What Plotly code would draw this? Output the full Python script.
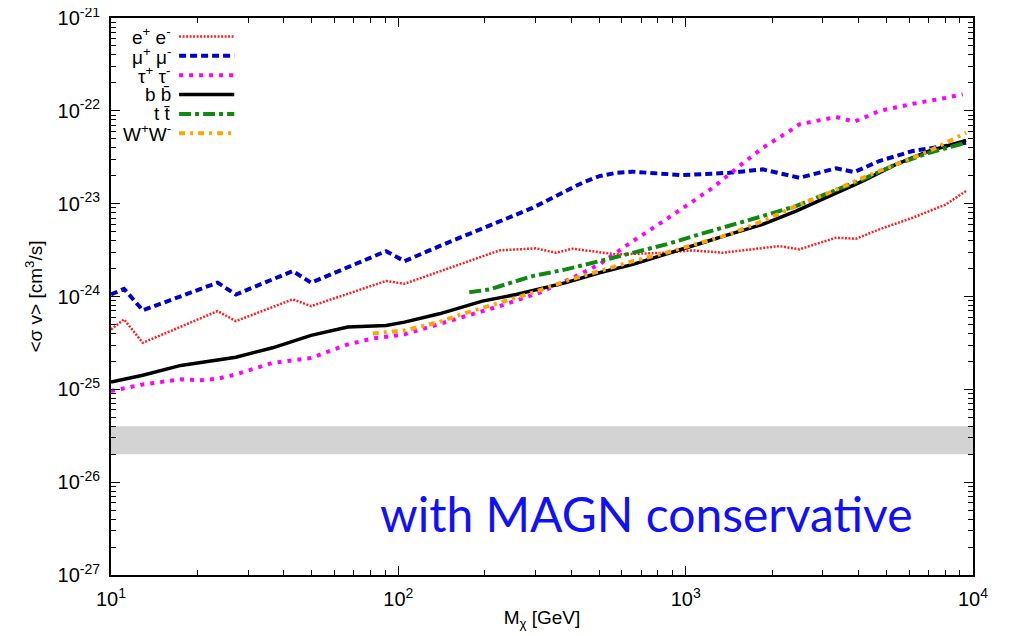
import plotly.graph_objects as go

# ---------------- data ----------------
ee_mass = [10, 11.1, 12.9, 23.5, 27.2, 42.9, 49.7, 90.6, 105, 139, 225, 301, 354, 404, 573,
           855, 1057, 1346, 2118, 2488, 3337, 3917, 4721, 6166, 8055, 9460]
ee_sv = [4.42e-25, 5.67e-25, 3.17e-25, 6.97e-25, 5.43e-25, 9.31e-25, 7.88e-25, 1.47e-24, 1.37e-24,
         1.85e-24, 3.14e-24, 3.30e-24, 2.96e-24, 3.27e-24, 2.84e-24, 2.96e-24, 3.14e-24, 2.96e-24,
         3.49e-24, 3.22e-24, 4.30e-24, 4.19e-24, 5.29e-24, 7.05e-24, 9.82e-24, 1.37e-23]

mumu_mass = [10, 11.1, 12.9, 23.5, 27.2, 42.9, 49.7, 90.6, 105, 139, 293, 437, 501, 573, 655, 977,
             1419, 1854, 2488, 3337, 3864, 4721, 6166, 8055, 9460]
mumu_sv = [1.05e-24, 1.21e-24, 7.1e-25, 1.41e-24, 1.05e-24, 1.88e-24, 1.41e-24, 3.08e-24, 2.40e-24,
           3.49e-24, 9.0e-24, 1.68e-23, 1.98e-23, 2.15e-23, 2.21e-23, 2.03e-23, 2.15e-23, 2.34e-23,
           1.90e-23, 2.40e-23, 2.19e-23, 2.88e-23, 3.69e-23, 4.18e-23, 4.53e-23]

tautau_mass = [10, 12.9, 17.5, 20.3, 23.5, 27.2, 36.5, 49.7, 66.7, 81.5, 105, 139, 225, 310, 404,
               501, 655, 855, 1116, 1241, 1538, 1854, 2296, 2488, 3337, 3864, 4721, 6166, 8055, 9204]
tautau_sv = [9.57e-26, 1.13e-25, 1.28e-25, 1.25e-25, 1.30e-25, 1.45e-25, 1.93e-25, 2.18e-25, 3.05e-25,
             3.53e-25, 3.91e-25, 5.08e-25, 7.88e-25, 1.10e-24, 1.59e-24, 2.22e-24, 3.95e-24, 6.77e-24,
             1.21e-23, 1.48e-23, 2.54e-23, 4.00e-23, 6.05e-23, 7.16e-23, 8.58e-23, 7.63e-23, 9.96e-23,
             1.19e-22, 1.38e-22, 1.51e-22]

bb_mass = [10, 12.9, 17.5, 23.5, 27.2, 36.5, 49.7, 66.7, 90.6, 105, 139, 196, 257, 383, 501, 655,
           855, 1116, 1419, 1854, 2421, 3162, 4130, 5395, 7047, 9460]
bb_sv = [1.20e-25, 1.42e-25, 1.81e-25, 2.05e-25, 2.22e-25, 2.80e-25, 3.81e-25, 4.68e-25, 4.88e-25,
         5.30e-25, 6.51e-25, 8.91e-25, 1.05e-24, 1.41e-24, 1.80e-24, 2.22e-24, 2.84e-24, 3.70e-24,
         4.67e-24, 5.98e-24, 8.32e-24, 1.21e-23, 1.75e-23, 2.65e-23, 3.69e-23, 4.81e-23]

tt_mass = [176.6, 207, 293, 383, 501, 655, 855, 1116, 1419, 1854, 2421, 3162, 4130, 5395, 7047, 9460]
tt_sv = [1.11e-24, 1.19e-24, 1.66e-24, 1.96e-24, 2.40e-24, 2.96e-24, 3.64e-24, 4.67e-24, 5.74e-24,
         7.35e-24, 9.42e-24, 1.31e-23, 1.83e-23, 2.65e-23, 3.54e-23, 4.53e-23]

ww_mass = [81.5, 105, 139, 172, 225, 293, 383, 501, 655, 855, 1116, 1419, 1854, 2421, 3162, 4130,
           5395, 7047, 9460]
ww_sv = [4.00e-25, 4.31e-25, 5.33e-25, 6.67e-25, 8.55e-25, 1.10e-24, 1.47e-24, 1.88e-24, 2.40e-24,
         2.96e-24, 3.79e-24, 4.67e-24, 6.49e-24, 9.42e-24, 1.31e-23, 1.90e-23, 2.65e-23, 3.69e-23,
         5.81e-23]

band_mass = [10, 10000]
band_low = [2e-26, 2e-26]
band_high = [4e-26, 4e-26]

series_labels = ["e<sup>+</sup> e<sup>-</sup>", "\u03bc<sup>+</sup> \u03bc<sup>-</sup>",
                 "\u03c4<sup>+</sup> \u03c4<sup>-</sup>", "b b\u0304", "t t\u0304",
                 "W<sup>+</sup>W<sup>-</sup>"]

x_tickvals = [10, 100, 1000, 10000]
x_ticktext = ["10<sup>1</sup>", "10<sup>2</sup>", "10<sup>3</sup>", "10<sup>4</sup>"]
y_tickvals = [1e-27, 1e-26, 1e-25, 1e-24, 1e-23, 1e-22, 1e-21]
y_ticktext = ["10<sup>-27</sup>", "10<sup>-26</sup>", "10<sup>-25</sup>", "10<sup>-24</sup>",
              "10<sup>-23</sup>", "10<sup>-22</sup>", "10<sup>-21</sup>"]

annotation_text = "with MAGN conservative"

# ---------------- styles ----------------
styles = [
    dict(color="#ff2020", width=2.5, dash="2px,1.5px"),
    dict(color="#0000cc", width=4, dash="7px,4px"),
    dict(color="#ff00ff", width=4, dash="4px,6px"),
    dict(color="#000000", width=3.5, dash="solid"),
    dict(color="#118811", width=4, dash="12px,4px,4px,4px"),
    dict(color="#ffa500", width=4, dash="6px,5px,3px,5px"),
]
series = [(ee_mass, ee_sv), (mumu_mass, mumu_sv), (tautau_mass, tautau_sv),
          (bb_mass, bb_sv), (tt_mass, tt_sv), (ww_mass, ww_sv)]

fig = go.Figure()

# gray band
fig.add_trace(go.Scatter(x=band_mass, y=band_low, mode="lines", line=dict(width=0, color="#d3d3d3"),
                         showlegend=False, hoverinfo="skip"))
fig.add_trace(go.Scatter(x=band_mass, y=band_high, mode="lines", line=dict(width=0, color="#d3d3d3"),
                         fill="tonexty", fillcolor="#d3d3d3", showlegend=False, hoverinfo="skip"))

for (xs, ys), st, lab in zip(series, styles, series_labels):
    fig.add_trace(go.Scatter(x=xs, y=ys, mode="lines", name=lab, line=st, showlegend=False))

# legend (gnuplot style: text right-aligned, sample to the right)
leg_y0 = 0.967
leg_dy = 0.0348
for i, (lab, st) in enumerate(zip(series_labels, styles)):
    yy = leg_y0 - i * leg_dy
    fig.add_annotation(xref="paper", yref="paper", x=0.072, y=yy, text=lab, showarrow=False,
                       xanchor="right", yanchor="middle",
                       font=dict(family="Liberation Sans", size=19, color="black"))
    fig.add_shape(type="line", xref="paper", yref="paper", x0=0.079, x1=0.143, y0=yy, y1=yy,
                  line=st)

fig.add_annotation(xref="paper", yref="paper", x=0.621, y=0.11, text=annotation_text,
                   showarrow=False, xanchor="center", yanchor="middle",
                   font=dict(family="Lato", size=48, color="#1010ff"))

minor_x = [m * 10 ** e for e in range(1, 4) for m in range(2, 10)]
minor_y = [m * 10.0 ** e for e in range(-27, -21) for m in range(2, 10)]

axis_common = dict(showline=True, linecolor="black", linewidth=2, mirror="ticks", ticks="inside",
                   ticklen=9, tickwidth=1.2, tickcolor="black", showgrid=False, zeroline=False,
                   automargin=False, ticklabeloverflow="allow",
                   tickfont=dict(family="Liberation Sans", size=20, color="black"))

fig.update_xaxes(type="log", range=[1, 4], tickmode="array", tickvals=x_tickvals, ticktext=x_ticktext,
                 ticklabelstandoff=5,
                 minor=dict(tickmode="array", tickvals=minor_x, ticks="inside", ticklen=5,
                            tickcolor="black", showgrid=False),
                 title=dict(text="M<sub>\u03c7</sub> [GeV]", standoff=2,
                            font=dict(family="Liberation Sans", size=19, color="black")),
                 **axis_common)
fig.update_yaxes(type="log", range=[-27, -21], tickmode="array", tickvals=y_tickvals, ticktext=y_ticktext,
                 ticklabelstandoff=5,
                 minor=dict(tickmode="array", tickvals=minor_y, ticks="inside", ticklen=5,
                            tickcolor="black", showgrid=False),
                 title=dict(text="&lt;\u03c3 v&gt; [cm<sup>3</sup>/s]", standoff=10,
                            font=dict(family="Liberation Sans", size=19, color="black")),
                 **axis_common)

fig.update_layout(width=1010, height=636, margin=dict(l=103, r=45, t=10, b=69),
                  plot_bgcolor="white", paper_bgcolor="white", showlegend=False)

fig.write_html("out.html")
